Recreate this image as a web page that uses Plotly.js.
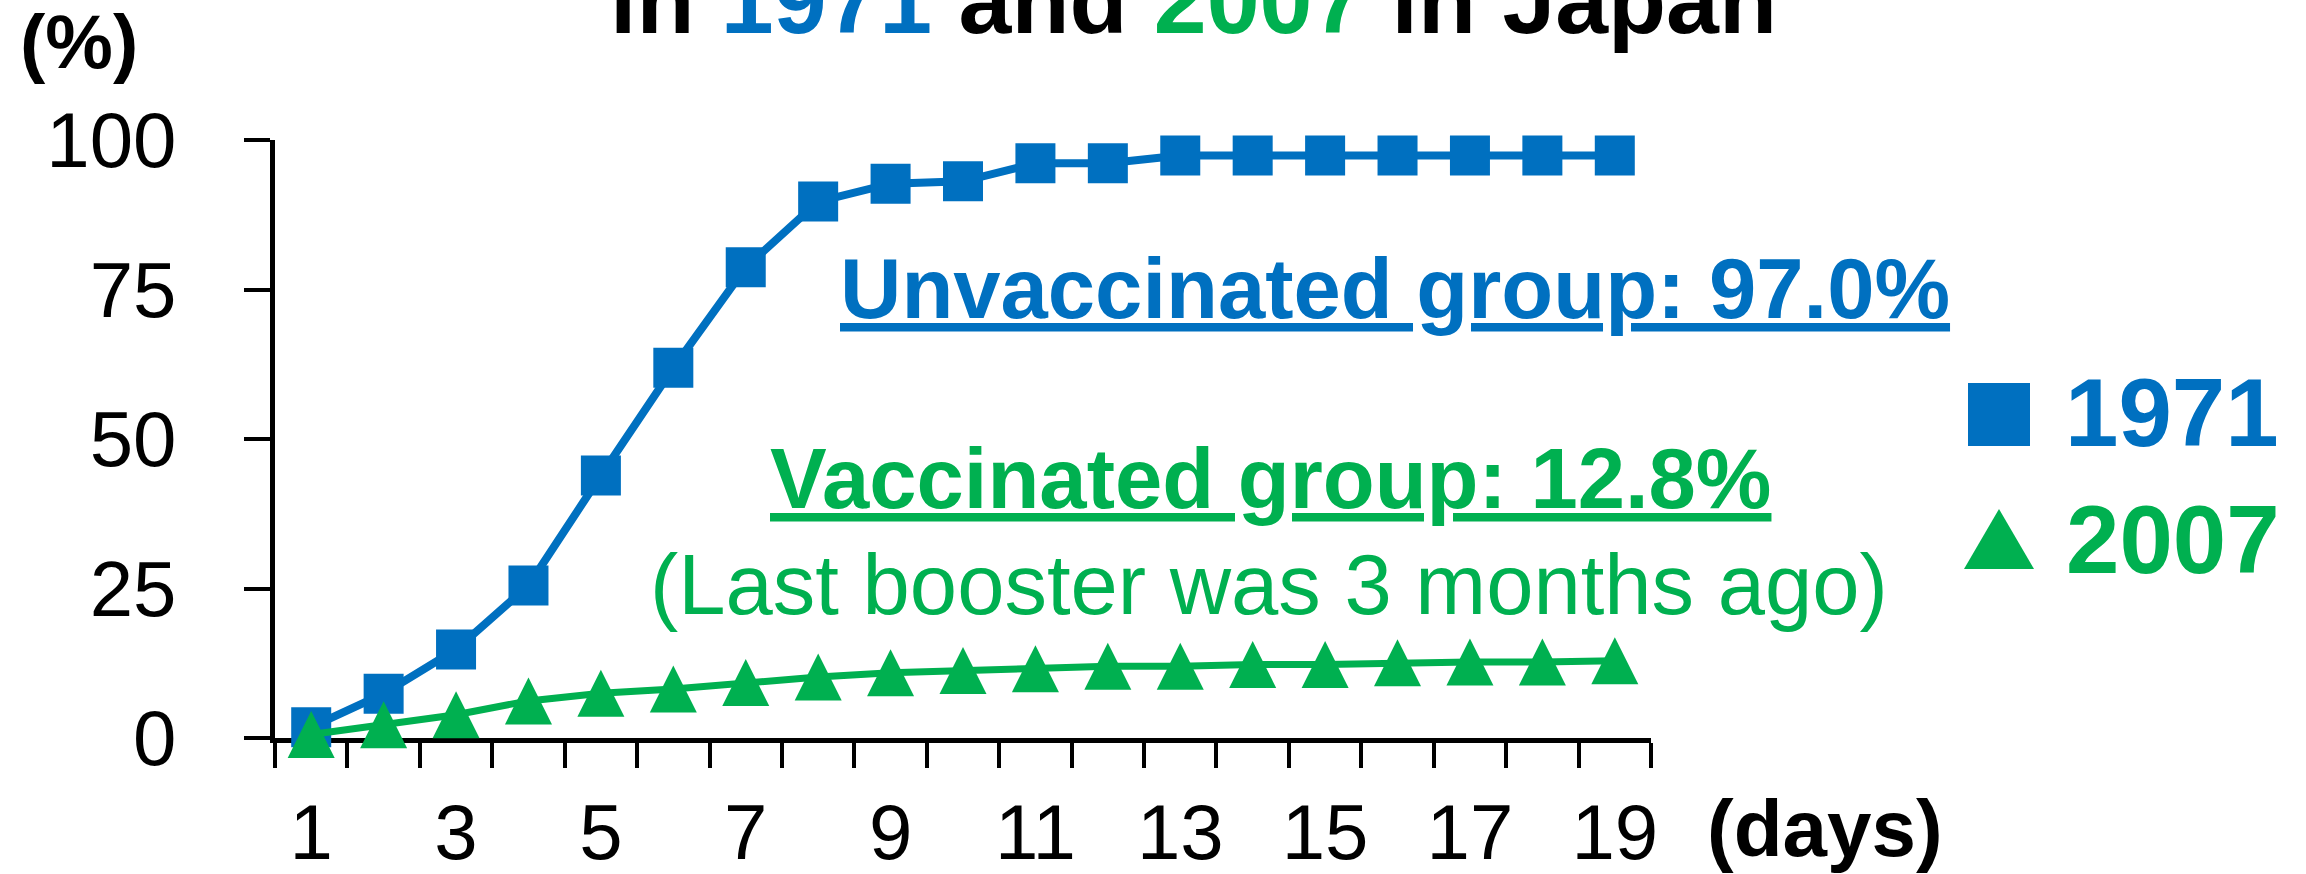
<!DOCTYPE html>
<html>
<head>
<meta charset="utf-8">
<script src="https://cdn.plot.ly/plotly-3.0.1.min.js"></script>
<style>
html,body{margin:0;padding:0;background:#fff;}
#chart{width:2306px;height:874px;}
text, tspan{text-decoration-skip-ink:none;text-decoration-thickness:4px;}
</style>
</head>
<body>
<div id="chart"></div>
<script>
// ---- data ----
const days = [1,2,3,4,5,6,7,8,9,10,11,12,13,14,15,16,17,18,19];
const attack1971 = [1.8,7.4,14.8,25.5,43.9,61.9,78.7,89.7,92.7,93.1,96.1,96.1,97.4,97.4,97.4,97.4,97.4,97.4,97.4];
const attack2007 = [0.6,2.2,3.9,6.2,7.5,8.2,9.3,10.2,10.9,11.3,11.6,12.0,12.0,12.3,12.3,12.6,12.7,12.7,12.9];
const xTickVals = [1,3,5,7,9,11,13,15,17,19];
const yTickVals = [0,25,50,75,100];
const seriesNames = ['1971','2007'];
const blue = '#0070C0', green = '#00B050';
const FONT = '"Liberation Sans", Arial, Helvetica, sans-serif';

// plot area in pixels (for placing decorations)
const W = 2306, H = 874;
const L = 275, R = 1651, T = 140, B = 738;
const px = p => (p - L) / (R - L);
const py = p => (B - p) / (B - T);

const TRI = 47; // triangle marker width/height in px
const traces = [
  {x: days, y: attack1971, name: seriesNames[0], type: 'scatter', mode: 'lines+markers',
   line: {color: blue, width: 8}, marker: {symbol: 'square', size: 40, color: blue, line: {width: 0}},
   cliponaxis: false, showlegend: false},
  {x: days, y: attack2007, name: seriesNames[1], type: 'scatter', mode: 'lines+markers',
   line: {color: green, width: 7},
   marker: {symbol: 'arrow-down', angle: 180, standoff: TRI / 2, size: TRI, color: green, line: {width: 0}},
   cliponaxis: false, showlegend: false}
];

function ann(text, xc, yc, size, color, bold, xanchor) {
  return {text: bold ? '<b>' + text + '</b>' : text, x: px(xc), y: py(yc), xref: 'paper', yref: 'paper',
    xanchor: xanchor || 'center', yanchor: 'middle', showarrow: false,
    font: {family: FONT, size: size, color: color}};
}

const annotations = [
  ann('in <span style="color:' + blue + '">1971</span> and <span style="color:' + green + '">2007</span> in Japan', 1193, 0, 95, '#000', true),
  ann('(%)', 79, 41, 76, '#000', true),
  ann('(days)', 1825, 828, 80, '#000', true),
  ann('<u>Unvaccinated group: 97.0%</u>', 1395, 288.5, 85, blue, true),
  ann('<u>Vaccinated group: 12.8%</u>', 1270, 478.5, 85, green, true),
  ann('(Last booster was 3 months ago)', 1269, 584, 85, green, false),
  ann(seriesNames[0], 2063, 412, 96, blue, true, 'left'),
  ann(seriesNames[1], 2064, 539.5, 96, green, true, 'left')
];

const shapes = [
  {type: 'rect', xref: 'paper', yref: 'paper', x0: px(1968), x1: px(2030), y0: py(446), y1: py(383),
   fillcolor: blue, line: {width: 0}},
  {type: 'path', xref: 'paper', yref: 'paper',
   path: 'M' + px(1964) + ',' + py(569) + ' L' + px(2034) + ',' + py(569) + ' L' + px(1999) + ',' + py(509) + ' Z',
   fillcolor: green, line: {width: 0}}
];

const layout = {
  width: W, height: H,
  margin: {l: L, r: W - R, t: T, b: H - B, pad: 0},
  paper_bgcolor: '#fff', plot_bgcolor: '#fff',
  showlegend: false,
  font: {family: FONT, color: '#000'},
  xaxis: {
    range: [0.5, 19.5], tickmode: 'array', tickvals: xTickVals, ticktext: xTickVals.map(String),
    ticks: '', showgrid: false, zeroline: false, showline: true, linecolor: '#000', linewidth: 5,
    tickfont: {family: FONT, size: 78, color: '#000'}, ticklabelstandoff: 22,
    minor: {ticks: 'outside', ticklen: 25, tickwidth: 4, tickcolor: '#000', tick0: 0.5, dtick: 1, showgrid: false},
    layer: 'below traces', fixedrange: true
  },
  yaxis: {
    range: [0, 100], tickmode: 'array', tickvals: yTickVals, ticktext: yTickVals.map(String),
    ticks: 'outside', ticklen: 26, tickwidth: 4, tickcolor: '#000',
    showgrid: false, zeroline: false, showline: true, linecolor: '#000', linewidth: 5,
    tickfont: {family: FONT, size: 78, color: '#000'}, ticklabelstandoff: 52,
    layer: 'below traces', fixedrange: true
  },
  annotations: annotations,
  shapes: shapes
};

Plotly.newPlot('chart', traces, layout, {displayModeBar: false, staticPlot: true});
</script>
</body>
</html>
